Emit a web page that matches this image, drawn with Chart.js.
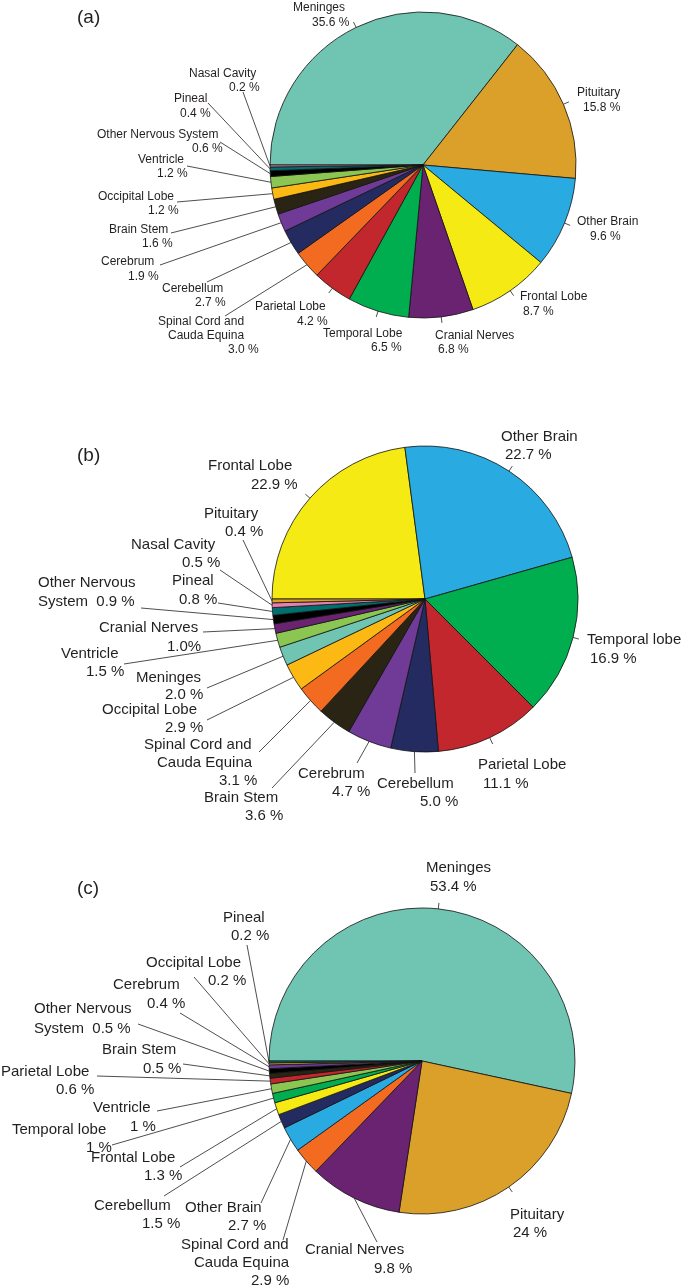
<!DOCTYPE html>
<html>
<head>
<meta charset="utf-8">
<script src="https://cdn.jsdelivr.net/npm/chart.js@4.4.0/dist/chart.umd.min.js"></script>
<style>
  html, body { margin:0; padding:0; background:#fff; }
  #wrap { position:relative; width:683px; height:1288px; overflow:hidden; }
  canvas { position:absolute; left:0; top:0; }
</style>
</head>
<body>
<div id="wrap">
  <canvas id="ca" width="683" height="1288"></canvas>
  <canvas id="cb" width="683" height="1288"></canvas>
  <canvas id="cc" width="683" height="1288"></canvas>
</div>
<script>
// ---------------- DATA ----------------
const categoriesA = ['Meninges','Pituitary','Other Brain','Frontal Lobe','Cranial Nerves','Temporal Lobe','Parietal Lobe','Spinal Cord and Cauda Equina','Cerebellum','Cerebrum','Brain Stem','Occipital Lobe','Ventricle','Other Nervous System','Pineal','Nasal Cavity'];
const valuesA = [35.6, 15.8, 9.6, 8.7, 6.8, 6.5, 4.2, 3.0, 2.7, 1.9, 1.6, 1.2, 1.2, 0.6, 0.4, 0.2];
const valueLabelsA = ['35.6 %','15.8 %','9.6 %','8.7 %','6.8 %','6.5 %','4.2 %','3.0 %','2.7 %','1.9 %','1.6 %','1.2 %','1.2 %','0.6 %','0.4 %','0.2 %'];

const categoriesB = ['Frontal Lobe','Other Brain','Temporal lobe','Parietal Lobe','Cerebellum','Cerebrum','Brain Stem','Spinal Cord and Cauda Equina','Occipital Lobe','Meninges','Ventricle','Cranial Nerves','Other Nervous System','Pineal','Nasal Cavity','Pituitary'];
const valuesB = [22.9, 22.7, 16.9, 11.1, 5.0, 4.7, 3.6, 3.1, 2.9, 2.0, 1.5, 1.0, 0.9, 0.8, 0.5, 0.4];
const valueLabelsB = ['22.9 %','22.7 %','16.9 %','11.1 %','5.0 %','4.7 %','3.6 %','3.1 %','2.9 %','2.0 %','1.5 %','1.0%','0.9 %','0.8 %','0.5 %','0.4 %'];

const categoriesC = ['Meninges','Pituitary','Cranial Nerves','Spinal Cord and Cauda Equina','Other Brain','Cerebellum','Frontal Lobe','Temporal lobe','Ventricle','Parietal Lobe','Brain Stem','Other Nervous System','Cerebrum','Occipital Lobe','Pineal'];
const valuesC = [53.4, 24, 9.8, 2.9, 2.7, 1.5, 1.3, 1, 1, 0.6, 0.5, 0.5, 0.4, 0.2, 0.2];
const valueLabelsC = ['53.4 %','24 %','9.8 %','2.9 %','2.7 %','1.5 %','1.3 %','1 %','1 %','0.6 %','0.5 %','0.5 %','0.4 %','0.2 %','0.2 %'];

const panelTitles = ['(a)','(b)','(c)'];

// ---------------- STYLES ----------------
const colorMap = {
  'meninges':'#6FC5B1','pituitary':'#DAA02A','other brain':'#29ABE2','frontal lobe':'#F5EA14',
  'cranial nerves':'#6A2370','temporal lobe':'#00AE4F','parietal lobe':'#C1272D',
  'spinal cord and cauda equina':'#F26B21','cerebellum':'#232B61','cerebrum':'#6F3B96',
  'brain stem':'#2A2415','occipital lobe':'#FDB913','ventricle':'#8BC652',
  'other nervous system':'#000000','pineal':'#00706F','nasal cavity':'#E77FB3'
};
const TEXT = '#231F20';

// label layout: text line templates with [template, left x, baseline y]; k = radial tick length, e = leader end point
const layoutA = [
  {t:[['{n}',293,11],['{v}',312,26]], k:6},
  {t:[['{n}',577,96],['{v}',583,111]], k:6},
  {t:[['{n}',577,225],['{v}',590,240]], k:6},
  {t:[['{n}',520,300],['{v}',523,315]], k:6},
  {t:[['{n}',435,339],['{v}',438,353]], k:6},
  {t:[['{n}',323,337],['{v}',371,351]], k:6},
  {t:[['{n}',255,310],['{v}',297,325]], k:6},
  {t:[['{w0-2}',158,325],['{w3-4}',168,339],['{v}',228,353]], e:[225,316]},
  {t:[['{n}',162,292],['{v}',195,306]], e:[207,282]},
  {t:[['{n}',101,265],['{v}',128,280]], e:[160,265]},
  {t:[['{n}',109,233],['{v}',142,247]], e:[171,233]},
  {t:[['{n}',98,200],['{v}',148,214]], e:[177,202]},
  {t:[['{n}',138,163],['{v}',157,177]], e:[187,166]},
  {t:[['{n}',97,138],['{v}',192,152]], e:[220,142]},
  {t:[['{n}',174,102],['{v}',180,117]], e:[208,103]},
  {t:[['{n}',189,77],['{v}',229,91]], e:[243,92]}
];
const layoutB = [
  {t:[['{n}',208,470],['{v}',251,489]], k:6},
  {t:[['{n}',501,441],['{v}',505,459]], k:6},
  {t:[['{n}',587,644],['{v}',590,663]], k:6},
  {t:[['{n}',478,769],['{v}',483,788]], k:7},
  {t:[['{n}',377,788],['{v}',420,806]], e:[415,773]},
  {t:[['{n}',298,778],['{v}',332,796]], e:[357,763]},
  {t:[['{n}',204,802],['{v}',245,820]], e:[272,788]},
  {t:[['{w0-2}',144,749],['{w3-4}',157,767],['{v}',219,785]], e:[259,752]},
  {t:[['{n}',102,714],['{v}',165,732]], e:[207,720]},
  {t:[['{n}',136,682],['{v}',165,699]], e:[207,688]},
  {t:[['{n}',61,658],['{v}',86,676]], e:[124,664]},
  {t:[['{n}',99,632],['{v}',167,651]], e:[203,632]},
  {t:[['{w0-1}',38,587],['{w2}  {v}',38,606]], e:[141,608]},
  {t:[['{n}',172,585],['{v}',179,604]], e:[218,603]},
  {t:[['{n}',131,549],['{v}',182,567]], e:[220,570]},
  {t:[['{n}',204,518],['{v}',225,536]], e:[243,540]}
];
const layoutC = [
  {t:[['{n}',426,872],['{v}',430,891]], k:6},
  {t:[['{n}',510,1219],['{v}',513,1237]], k:6},
  {t:[['{n}',305,1254],['{v}',374,1273]], e:[377,1242]},
  {t:[['{w0-2}',181,1249],['{w3-4}',194,1267],['{v}',251,1285]], e:[283,1240]},
  {t:[['{n}',185,1212],['{v}',228,1230]], e:[261,1203]},
  {t:[['{n}',94,1210],['{v}',142,1228]], e:[164,1196]},
  {t:[['{n}',91,1162],['{v}',144,1180]], e:[180,1167]},
  {t:[['{n}',12,1134],['{v}',86,1152]], e:[112,1145]},
  {t:[['{n}',93,1112],['{v}',130,1131]], e:[157,1111]},
  {t:[['{n}',1,1076],['{v}',56,1094]], e:[97,1076]},
  {t:[['{n}',102,1054],['{v}',143,1073]], e:[183,1064]},
  {t:[['{w0-1}',34,1013],['{w2}  {v}',34,1033]], e:[138,1024]},
  {t:[['{n}',113,989],['{v}',147,1008]], e:[180,1013]},
  {t:[['{n}',146,967],['{v}',208,985]], e:[194,977]},
  {t:[['{n}',223,922],['{v}',231,940]], e:[247,945]}
];

function fill(tpl, name, val) {
  const words = name.split(' ');
  return tpl
    .replace(/\{n\}/g, name)
    .replace(/\{v\}/g, val)
    .replace(/\{w(\d+)-(\d+)\}/g, (m, a, b) => words.slice(+a, +b + 1).join(' '))
    .replace(/\{w(\d+)\}/g, (m, a) => words[+a]);
}

const leaderPlugin = {
  id: 'leaders',
  afterDatasetsDraw(chart, args, o) {
    const ctx = chart.ctx;
    const meta = chart.getDatasetMeta(0);
    ctx.save();
    ctx.strokeStyle = TEXT;
    ctx.lineWidth = 0.8;
    ctx.fillStyle = TEXT;
    ctx.font = o.fontSize + 'px "Liberation Sans", Arial, sans-serif';
    ctx.textBaseline = 'alphabetic';
    ctx.textAlign = 'left';
    meta.data.forEach((arc, i) => {
      const L = o.layout[i];
      const p = arc.getProps(['x','y','startAngle','endAngle','outerRadius'], true);
      const mid = (p.startAngle + p.endAngle) / 2;
      const sx = p.x + Math.cos(mid) * p.outerRadius;
      const sy = p.y + Math.sin(mid) * p.outerRadius;
      let ex, ey;
      if (L.k) {
        ex = p.x + Math.cos(mid) * (p.outerRadius + L.k);
        ey = p.y + Math.sin(mid) * (p.outerRadius + L.k);
      } else { ex = L.e[0]; ey = L.e[1]; }
      ctx.beginPath();
      ctx.moveTo(sx, sy);
      ctx.lineTo(ex, ey);
      ctx.stroke();
      L.t.forEach(([tpl, tx, ty]) => {
        ctx.fillText(fill(tpl, o.cats[i], o.vals[i]), tx, ty);
      });
    });
    ctx.font = '19px "Liberation Sans", Arial, sans-serif';
    ctx.fillText(o.title, o.titlePos[0], o.titlePos[1]);
    ctx.restore();
  }
};

function makePie(id, cats, vals, vlabels, layout, pad, fontSize, title, titlePos) {
  return new Chart(document.getElementById(id), {
    type: 'pie',
    data: {
      labels: cats,
      datasets: [{
        data: vals,
        backgroundColor: cats.map(c => colorMap[c.toLowerCase()]),
        borderColor: '#111111',
        borderWidth: 0.8,
        radius: 153
      }]
    },
    options: {
      responsive: false,
      animation: false,
      events: [],
      rotation: -90,
      layout: { padding: pad },
      plugins: {
        legend: { display: false },
        tooltip: { enabled: false },
        leaders: { cats: cats, vals: vlabels, layout: layout, fontSize: fontSize, title: title, titlePos: titlePos }
      }
    },
    plugins: [leaderPlugin]
  });
}

makePie('ca', categoriesA, valuesA, valueLabelsA, layoutA, {left:163, right:0, top:0, bottom:958}, 12, panelTitles[0], [77, 23]);
makePie('cb', categoriesB, valuesB, valueLabelsB, layoutB, {left:167, right:0, top:0, bottom:90}, 15, panelTitles[1], [77, 461]);
makePie('cc', categoriesC, valuesC, valueLabelsC, layoutC, {left:161, right:0, top:834, bottom:0}, 15, panelTitles[2], [77, 894]);
</script>
</body>
</html>
